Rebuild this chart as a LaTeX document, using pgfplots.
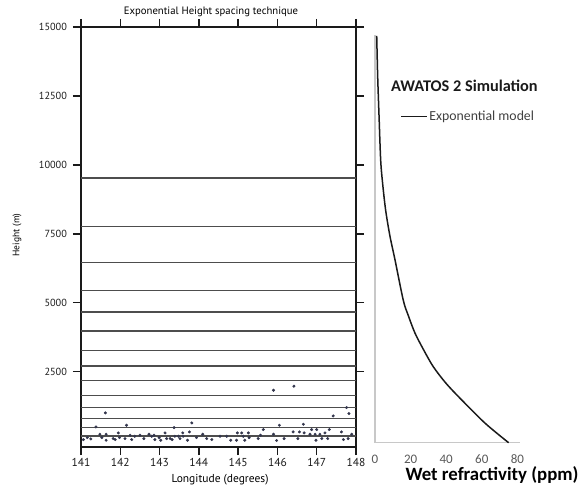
\documentclass[border=0pt]{standalone}
\usepackage{fontspec}
\setmainfont{Carlito}
\newfontfamily\myriad{PT Sans}
\usepackage{pgfplots}
\pgfplotsset{compat=1.18}
\definecolor{frame}{HTML}{1A1A1A}
\definecolor{spacing}{HTML}{4D4D4D}
\definecolor{station}{HTML}{33364D}
\definecolor{xlaxis}{HTML}{C8C8C8}
\definecolor{xltext}{HTML}{595959}
\definecolor{legtext}{HTML}{404040}

% GNSS station positions (longitude, height in m)
\pgfplotstableread{
lon h
141.06 39
141.16 111
141.25 63
141.38 498
141.48 232
141.53 111
141.64 232
141.64 15
141.62 1006
141.82 75
141.87 39
141.95 281
141.98 111
142.12 75
142.16 559
142.25 196
142.29 39
142.37 160
142.50 196
142.60 75
142.73 232
142.80 160
142.86 196
142.88 39
142.99 111
143.03 15
143.14 281
143.18 75
143.27 75
143.32 39
143.37 474
143.39 160
143.48 160
143.52 75
143.59 281
143.60 160
143.71 15
143.76 317
143.82 643
143.94 111
144.10 232
144.20 75
144.33 39
144.54 160
144.71 160
144.81 15
144.96 15
144.98 281
145.09 281
145.13 160
145.17 15
145.26 281
145.28 111
145.51 75
145.57 196
145.64 402
145.90 1829
145.90 232
145.98 5
146.05 559
146.17 75
146.40 317
146.42 1974
146.52 75
146.56 317
146.66 595
146.68 281
146.83 232
146.87 402
146.96 232
146.98 15
147.00 402
147.08 232
147.13 75
147.21 281
147.28 75
147.32 402
147.42 897
147.63 317
147.68 39
147.76 1200
147.82 982
147.80 75
147.89 232
}\stations

% exponential wet refractivity profile (ppm, height in m)
\pgfplotstableread{
n h
75.1 0
62.0 700
48.8 1547
40.0 2150
32.8 2754
27.5 3350
22.5 3975
18.8 4600
15.9 5170
11.3 6620
8.4 7500
6.0 8431
4.3 9400
3.2 10243
2.3 11800
1.5 13300
0.96 14770
}\profile

\begin{document}
\begin{tikzpicture}[x=1pt,y=1pt]
\useasboundingbox (0,0) rectangle (580,495);

% left panel: height levels above the station network
\begin{axis}[
  at={(81pt,48pt)}, anchor=south west,
  scale only axis, width=275pt, height=420pt,
  xmin=141, xmax=148, ymin=-230, ymax=15000,
  xtick={141,142,...,148},
  ytick={2500,5000,7500,10000,12500,15000},
  scaled ticks=false,
  tick align=outside,
  major tick length=8pt,
  tick style={line width=1.4pt, color=frame},
  axis line style={line width=1.8pt, color=frame},
  /pgf/number format/assume math mode=true,
  /pgf/number format/set thousands separator={},
  xticklabel style={font=\myriad\fontsize{11.5}{12}\selectfont, text=frame},
  yticklabel style={font=\myriad\fontsize{10.3}{11}\selectfont, text=frame, xshift=-2.5pt},
  title={Exponential Height spacing technique},
  title style={font=\myriad\fontsize{10.7}{12}\selectfont, anchor=base,
    at={(axis description cs:0.4727,1.015)}, inner sep=0pt},
  xlabel={Longitude (degrees)},
  xlabel style={font=\myriad\fontsize{11.5}{13}\selectfont, anchor=base,
    at={(axis description cs:0.5055,-0.0857)}, inner sep=0pt},
  ylabel={Height (m)},
  ylabel style={font=\myriad\fontsize{9.5}{10}\selectfont, anchor=center,
    at={(axis description cs:-0.2327,0.5048)}, inner sep=0pt},
  clip=false,
]
\pgfplotsinvokeforeach{170,470,795,1195,1630,2170,2705,3260,3980,4660,5445,6450,7755,9520}{
  \addplot[spacing, line width=1.3pt] coordinates {(141,#1) (148,#1)};
}
\addplot[only marks, mark=*, mark size=1.3pt, color=station] table[x=lon, y=h] {\stations};
\end{axis}

% right panel: wet refractivity profile
\begin{axis}[
  at={(375pt,52.3pt)}, anchor=south west,
  scale only axis, width=145pt, height=407.7pt,
  xmin=0, xmax=81.5, ymin=0, ymax=14800,
  axis x line=bottom, axis y line=left,
  axis line style={-, color=xlaxis, line width=1.4pt},
  xtick={0,20,40,60,80}, ytick=\empty,
  major tick length=0pt,
  /pgf/number format/assume math mode=true,
  xticklabel style={font=\fontsize{13}{14}\selectfont, text=xltext, anchor=base, yshift=-21pt},
  xlabel={\textbf{Wet refractivity (ppm)}},
  xlabel style={font=\fontsize{18.8}{22}\selectfont, text=black, anchor=base,
    at={(axis description cs:0.807,-0.0915)}, inner sep=0pt},
  legend style={draw=none, fill=none, at={(axis description cs:0.176,0.80)}, anchor=west,
    font=\fontsize{13.8}{15}\selectfont, text=legtext, inner sep=0pt,
    nodes={inner sep=1.2pt}},
  legend image code/.code={\draw[#1] (0pt,0pt) -- (26pt,0pt);},
  clip=false,
]
\addplot[smooth, color=frame, line width=1.5pt] table[x=n, y=h] {\profile};
\addlegendentry{Exponential model}
\end{axis}

\node[anchor=base west, inner sep=0pt, font=\bfseries\fontsize{16.3}{19}\selectfont, text=frame]
  at (391,403.3) {AWATOS 2 Simulation};
\end{tikzpicture}
\end{document}
